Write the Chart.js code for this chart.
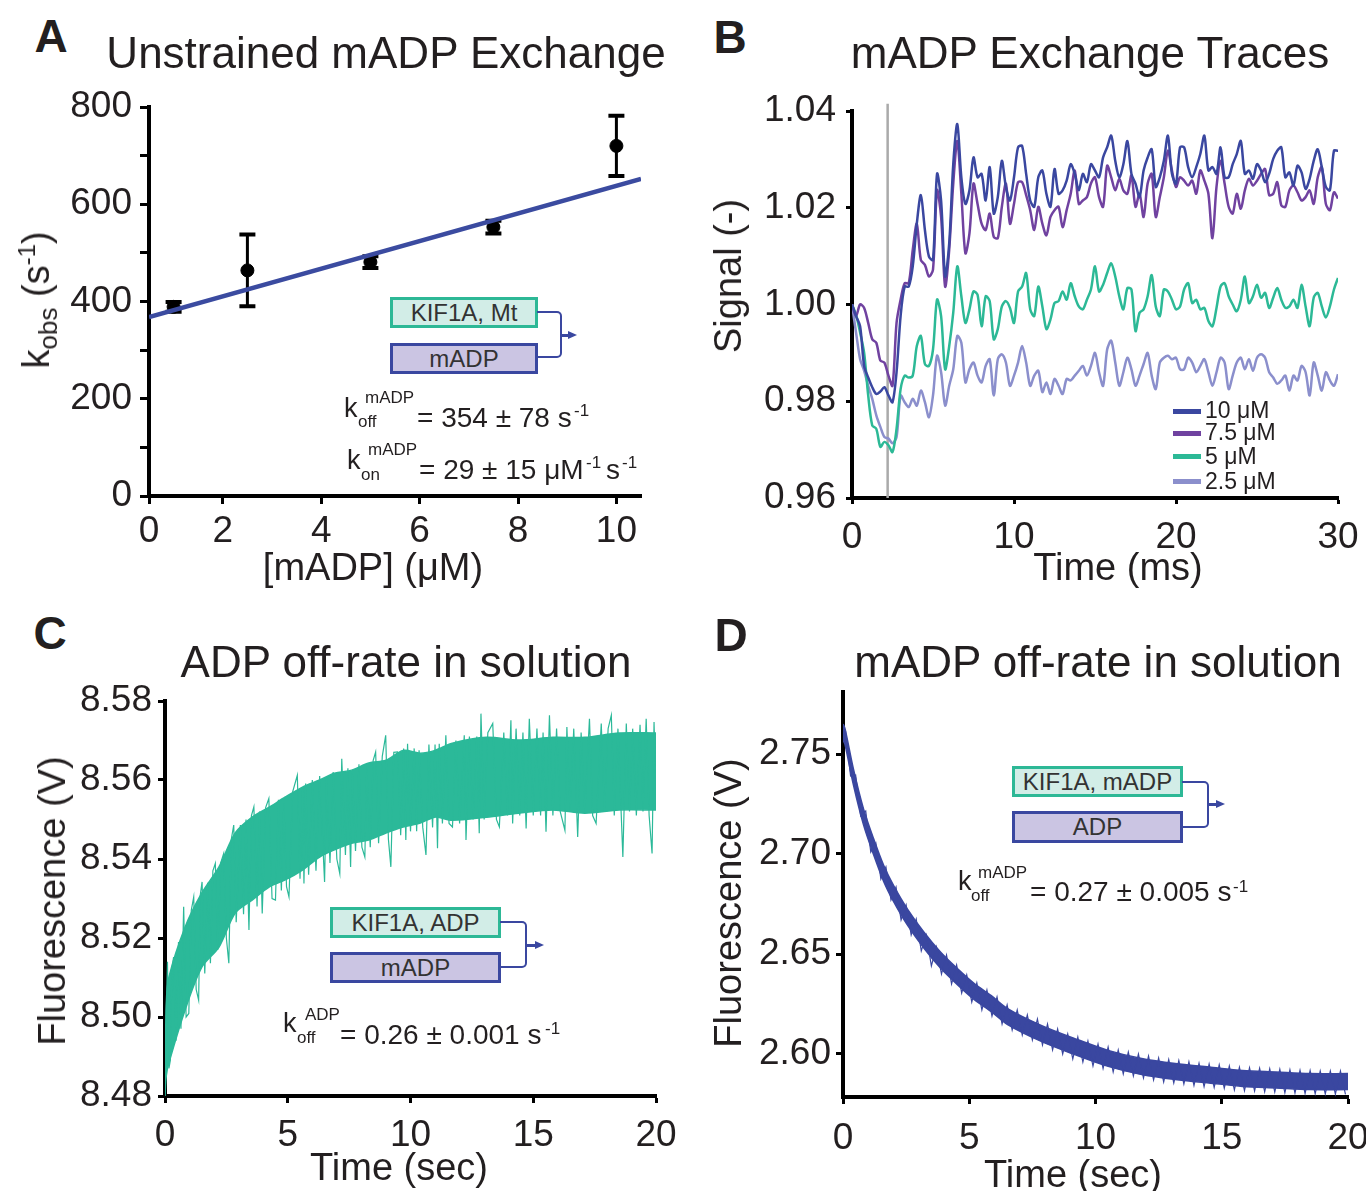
<!DOCTYPE html>
<html lang="en">
<head>
    <meta charset="UTF-8">
    <title>KIF1A mADP exchange</title>
    <script src="https://cdn.jsdelivr.net/npm/chart.js"></script>
    <style>
        body { margin: 0; width: 1366px; height: 1191px; overflow: hidden; background: #fff; position: relative; }
        canvas { position: absolute; }
        .t { position: absolute; font-family: 'Liberation Sans', Arial, sans-serif; color: #231f20; white-space: nowrap; line-height: 1; transform: translate(-50%, -50%); }
        .l { position: absolute; font-family: 'Liberation Sans', Arial, sans-serif; color: #231f20; white-space: nowrap; line-height: 1; transform: translateY(-50%); }
        .rot { transform: translate(-50%, -50%) rotate(-90deg); }
        .panel { font-weight: bold; font-size: 46px; }
        .title { font-size: 44px; }
        .axt { font-size: 38px; }
        .box { position: absolute; box-sizing: border-box; border: 3px solid; font-family: 'Liberation Sans', Arial, sans-serif; font-size: 24px; color: #333; display: flex; align-items: center; justify-content: center; }
        .kif { border-color: #2db896; background: #d2ede7; }
        .nuc { border-color: #3a47a0; background: #cbc5e3; }
        .brk { position: absolute; box-sizing: border-box; border: 2.5px solid #3a47a0; border-left: none; border-radius: 0 5px 5px 0; }
        .arr { position: absolute; height: 2.5px; background: #3a47a0; }
        .head { position: absolute; width: 0; height: 0; border-top: 4px solid transparent; border-bottom: 4px solid transparent; border-left: 9px solid #3a47a0; }
        .sub { font-size: 17px; }
        .big { font-size: 28px; }
        .kk { font-size: 27px; }
        .leg { position: absolute; height: 5px; width: 28px; }
        .legt { font-size: 23px; }
    </style>
</head>
<body>
    <canvas id="chartA" width="680" height="525" style="left:0px;top:75px"></canvas>
    <canvas id="chartB" width="720" height="525" style="left:690px;top:75px"></canvas>
    <canvas id="chartC" width="730" height="526" style="left:0px;top:665px"></canvas>
    <canvas id="chartD" width="720" height="536" style="left:690px;top:655px"></canvas>

    <!-- panel letters and titles -->
    <div class="t panel" style="left:51px;top:36px">A</div>
    <div class="t panel" style="left:730px;top:37px">B</div>
    <div class="t panel" style="left:50px;top:633px">C</div>
    <div class="t panel" style="left:731px;top:635px">D</div>
    <div class="t title" style="left:386px;top:53px">Unstrained mADP Exchange</div>
    <div class="t title" style="left:1090px;top:53px">mADP Exchange Traces</div>
    <div class="t title" style="left:406px;top:662px">ADP off-rate in solution</div>
    <div class="t title" style="left:1098px;top:662px">mADP off-rate in solution</div>

    <!-- axis titles -->
    <div class="t axt" style="left:373px;top:567px">[mADP] (μM)</div>
    <div class="t axt rot" style="left:36px;top:300px">k<span style="font-size:26px;position:relative;top:8px">obs</span> (s<span style="font-size:24px;position:relative;top:-14px">-1</span>)</div>
    <div class="t axt" style="left:1118px;top:567px">Time (ms)</div>
    <div class="t axt rot" style="left:728px;top:276px">Signal (-)</div>
    <div class="t axt" style="left:399px;top:1167px">Time (sec)</div>
    <div class="t axt rot" style="left:52px;top:901px">Fluorescence (V)</div>
    <div class="t axt" style="left:1073px;top:1174px">Time (sec)</div>
    <div class="t axt rot" style="left:728px;top:903px">Fluorescence (V)</div>

    <!-- panel A inset -->
    <div class="box kif" style="left:390px;top:297px;width:148px;height:31px">KIF1A, Mt</div>
    <div class="box nuc" style="left:390px;top:343px;width:148px;height:31px">mADP</div>
    <div class="brk" style="left:537px;top:311px;width:25px;height:47px"></div>
    <div class="arr" style="left:561px;top:334px;width:8px"></div>
    <div class="head" style="left:568px;top:331px"></div>
    <div class="l kk" style="left:344px;top:408px">k</div>
    <div class="l sub" style="left:365px;top:397px">mADP</div>
    <div class="l sub" style="left:358px;top:421px">off</div>
    <div class="l big" style="left:417px;top:418px">= 354 ± 78 s</div>
    <div class="l sub" style="left:574px;top:410px">-1</div>
    <div class="l kk" style="left:347px;top:460px">k</div>
    <div class="l sub" style="left:368px;top:449px">mADP</div>
    <div class="l sub" style="left:361px;top:474px">on</div>
    <div class="l big" style="left:419px;top:470px">= 29 ± 15 μM</div>
    <div class="l sub" style="left:586px;top:462px">-1</div>
    <div class="l big" style="left:606px;top:470px">s</div>
    <div class="l sub" style="left:622px;top:462px">-1</div>

    <!-- panel B legend -->
    <div class="leg" style="left:1173px;top:409px;background:#3a47a0"></div>
    <div class="leg" style="left:1173px;top:431px;background:#7042a0"></div>
    <div class="leg" style="left:1173px;top:454px;background:#2cb996"></div>
    <div class="leg" style="left:1173px;top:479px;background:#8b8fcc"></div>
    <div class="l legt" style="left:1205px;top:410px">10 μM</div>
    <div class="l legt" style="left:1205px;top:432px">7.5 μM</div>
    <div class="l legt" style="left:1205px;top:456px">5 μM</div>
    <div class="l legt" style="left:1205px;top:481px">2.5 μM</div>

    <!-- panel C inset -->
    <div class="box kif" style="left:330px;top:907px;width:171px;height:31px">KIF1A, ADP</div>
    <div class="box nuc" style="left:330px;top:952px;width:171px;height:31px">mADP</div>
    <div class="brk" style="left:500px;top:921px;width:27px;height:47px"></div>
    <div class="arr" style="left:526px;top:944px;width:9px"></div>
    <div class="head" style="left:535px;top:941px"></div>
    <div class="l kk" style="left:283px;top:1023px">k</div>
    <div class="l sub" style="left:305px;top:1014px">ADP</div>
    <div class="l sub" style="left:297px;top:1037px">off</div>
    <div class="l big" style="left:340px;top:1035px">= 0.26 ± 0.001 s</div>
    <div class="l sub" style="left:545px;top:1028px">-1</div>

    <!-- panel D inset -->
    <div class="box kif" style="left:1012px;top:766px;width:171px;height:31px">KIF1A, mADP</div>
    <div class="box nuc" style="left:1012px;top:811px;width:171px;height:32px">ADP</div>
    <div class="brk" style="left:1182px;top:781px;width:27px;height:47px"></div>
    <div class="arr" style="left:1208px;top:803px;width:9px"></div>
    <div class="head" style="left:1216px;top:800px"></div>
    <div class="l kk" style="left:958px;top:881px">k</div>
    <div class="l sub" style="left:978px;top:872px">mADP</div>
    <div class="l sub" style="left:971px;top:895px">off</div>
    <div class="l big" style="left:1030px;top:892px">= 0.27 ± 0.005 s</div>
    <div class="l sub" style="left:1233px;top:886px">-1</div>

    <script>
        // ---- Panel A: kobs vs [mADP] ----
        const aConc = [1, 2.5, 5, 7.5, 10];
        const aKobs = [389, 464, 481, 553, 720];
        const aErr = [10, 74, 12, 13, 62];
        const aFitX = [0.5, 10.5];
        const aFitY = [368, 652];
        const aXTicks = [0.5, 2, 4, 6, 8, 10];
        const aXLabels = ['0', '2', '4', '6', '8', '10'];
        const aYTicks = [0, 100, 200, 300, 400, 500, 600, 700, 800];
        const aYLabels = ['0', '', '200', '', '400', '', '600', '', '800'];

        // ---- Panel B: exchange traces (time in ms) ----
        const traceTimes = [0, 0.25, 0.5, 0.75, 1, 1.25, 1.5, 1.75, 2, 2.25, 2.5, 2.75, 3, 3.25, 3.5, 3.75, 4, 4.25, 4.5, 4.75,
            5, 5.25, 5.5, 5.75, 6, 6.25, 6.5, 6.75, 7, 7.25, 7.5, 7.75, 8, 8.25, 8.5, 8.75, 9, 9.25, 9.5, 9.75,
            10, 10.25, 10.5, 10.75, 11, 11.25, 11.5, 11.75, 12, 12.25, 12.5, 12.75, 13, 13.25, 13.5, 13.75, 14, 14.25, 14.5, 14.75,
            15, 15.25, 15.5, 15.75, 16, 16.25, 16.5, 16.75, 17, 17.25, 17.5, 17.75, 18, 18.25, 18.5, 18.75, 19, 19.25, 19.5, 19.75,
            20, 20.25, 20.5, 20.75, 21, 21.25, 21.5, 21.75, 22, 22.25, 22.5, 22.75, 23, 23.25, 23.5, 23.75, 24, 24.25, 24.5, 24.75,
            25, 25.25, 25.5, 25.75, 26, 26.25, 26.5, 26.75, 27, 27.25, 27.5, 27.75, 28, 28.25, 28.5, 28.75, 29, 29.25, 29.5, 29.75, 30];
        const trace10 = [1.000, 0.9976, 0.9955, 0.9873, 0.9849, 0.9829, 0.9815, 0.982, 0.9829, 0.9812, 0.9798, 0.986, 0.9976, 1.0037, 1.0037, 1.0079, 1.0167, 1.0226, 1.0154, 1.0099,
            1.0092, 1.027, 1.0215, 1.0058, 1.0126, 1.029, 1.0373, 1.0263, 1.0208, 1.0236, 1.0304, 1.0263, 1.027, 1.0215, 1.0284, 1.0188, 1.0222, 1.0297, 1.0243, 1.0215,
            1.0263, 1.0325, 1.0328, 1.027, 1.0215, 1.0202, 1.0263, 1.0277, 1.0229, 1.0202, 1.028, 1.0229, 1.0236, 1.0256, 1.029, 1.027, 1.0236, 1.027, 1.0253, 1.029,
            1.0277, 1.0263, 1.0304, 1.0325, 1.0349, 1.0297, 1.0263, 1.029, 1.0338, 1.027, 1.025, 1.0222, 1.0277, 1.0304, 1.0321, 1.0243, 1.0263, 1.0297, 1.0349, 1.027,
            1.025, 1.0325, 1.0325, 1.0284, 1.0263, 1.0284, 1.0311, 1.0349, 1.0277, 1.0284, 1.027, 1.0325, 1.0263, 1.0263, 1.029, 1.0311, 1.0338, 1.027, 1.0277, 1.026,
            1.029, 1.0277, 1.0253, 1.027, 1.0301, 1.0318, 1.0325, 1.0263, 1.0273, 1.0246, 1.0287, 1.0273, 1.0239, 1.026, 1.0297, 1.0321, 1.0284, 1.0243, 1.0236, 1.0318, 1.0318];
        const trace75 = [1.0, 0.9976, 1.0, 0.9993, 0.9962, 0.9928, 0.9921, 0.9884, 0.988, 0.9853, 0.9832, 0.9962, 1.001, 1.0044, 1.0044, 1.0113, 1.0167, 1.0092, 1.0082, 1.0058,
            1.0072, 1.0236, 1.0181, 1.0037, 1.0113, 1.025, 1.0338, 1.0229, 1.0106, 1.0147, 1.025, 1.0208, 1.0167, 1.0154, 1.0188, 1.014, 1.0137, 1.0202, 1.025, 1.0167,
            1.0208, 1.0253, 1.0253, 1.0226, 1.0195, 1.0154, 1.0202, 1.0167, 1.0143, 1.0181, 1.0195, 1.0202, 1.016, 1.0195, 1.0229, 1.0277, 1.0208, 1.0215, 1.0222, 1.025,
            1.0263, 1.0222, 1.0202, 1.0287, 1.0263, 1.0236, 1.026, 1.0236, 1.0229, 1.0267, 1.0202, 1.0229, 1.0181, 1.025, 1.027, 1.0181, 1.0222, 1.0263, 1.0318, 1.0277,
            1.0243, 1.0263, 1.0256, 1.0246, 1.0256, 1.0229, 1.0277, 1.0256, 1.0229, 1.0137, 1.0243, 1.0297, 1.025, 1.0202, 1.0188, 1.0229, 1.0198, 1.0236, 1.026, 1.0246,
            1.0256, 1.027, 1.028, 1.0226, 1.0229, 1.0253, 1.0205, 1.0202, 1.0236, 1.0246, 1.0232, 1.0215, 1.0222, 1.0236, 1.0208, 1.0263, 1.0284, 1.0208, 1.0195, 1.0232, 1.0219];
        const trace5 = [1.0, 0.9979, 0.9942, 0.99, 0.9812, 0.975, 0.9743, 0.9706, 0.9716, 0.9709, 0.9695, 0.9743, 0.9825, 0.9853, 0.9849, 0.9853, 0.9914, 0.9935, 0.9877, 0.9873,
            0.9907, 1.001, 0.9976, 0.9866, 0.9914, 0.9983, 1.0079, 1.0017, 0.9962, 0.999, 1.0027, 1.002, 0.9955, 1.0017, 1.0007, 0.9928, 0.9949, 0.9996, 1.0007, 0.9993,
            0.9962, 1.0027, 1.0037, 1.0065, 0.999, 0.9976, 1.0037, 0.9996, 0.9949, 0.9969, 1.0003, 1.0007, 1.0027, 1.001, 1.0044, 1.0017, 0.9996, 0.999, 1.001, 1.0031,
            1.0079, 1.0027, 1.0041, 1.0065, 1.0085, 1.0058, 1.0017, 0.999, 1.0034, 1.0031, 0.9945, 0.9983, 0.999, 1.0017, 1.0061, 0.9996, 0.9976, 1.0031, 1.0027, 1.001,
            0.999, 0.9996, 1.0031, 1.0044, 1.0003, 1.001, 0.999, 0.9993, 0.9966, 0.9955, 0.9993, 1.0037, 1.0044, 1.0017, 1.0, 0.9986, 1.001, 1.0058, 1.0003, 1.0017,
            1.0041, 1.0014, 1.0024, 0.9993, 1.0014, 1.0034, 1.001, 0.9993, 0.9996, 1.001, 0.9993, 1.0041, 0.9996, 0.9955, 1.0014, 1.0024, 0.9996, 0.9973, 0.9996, 1.0031, 1.0055];
        const trace25 = [1.0, 0.9942, 0.9887, 0.9863, 0.9832, 0.9805, 0.9771, 0.9747, 0.9726, 0.9723, 0.9713, 0.9726, 0.9812, 0.9798, 0.9788, 0.9805, 0.9791, 0.9822, 0.9798, 0.9767,
            0.9812, 0.9894, 0.986, 0.9791, 0.9832, 0.9866, 0.9935, 0.9921, 0.9839, 0.9866, 0.988, 0.9853, 0.9839, 0.9873, 0.9887, 0.9812, 0.9887, 0.9897, 0.988, 0.9832,
            0.9853, 0.988, 0.9914, 0.988, 0.9832, 0.9853, 0.9863, 0.9819, 0.9839, 0.9815, 0.9846, 0.9832, 0.9815, 0.9846, 0.9843, 0.9853, 0.9863, 0.9873, 0.9853, 0.9873,
            0.99, 0.986, 0.9832, 0.9907, 0.9925, 0.988, 0.9832, 0.986, 0.989, 0.9866, 0.9832, 0.9853, 0.9877, 0.99, 0.9853, 0.9825, 0.988, 0.989, 0.9894, 0.9887,
            0.989, 0.9866, 0.9866, 0.989, 0.988, 0.986, 0.9873, 0.9887, 0.986, 0.9832, 0.986, 0.989, 0.988, 0.9825, 0.9853, 0.988, 0.989, 0.9866, 0.9887, 0.9863,
            0.989, 0.9897, 0.989, 0.986, 0.9849, 0.9836, 0.9843, 0.9853, 0.9822, 0.9853, 0.9843, 0.9873, 0.986, 0.9812, 0.988, 0.9853, 0.9822, 0.986, 0.9843, 0.9832, 0.9856];
        const bMarkerTime = 2.2;
        const bXTicks = [0, 10, 20, 30];
        const bXLabels = ['0', '10', '20', '30'];
        const bYTicks = [0.96, 0.98, 1.00, 1.02, 1.04];
        const bYLabels = ['0.96', '0.98', '1.00', '1.02', '1.04'];

        // ---- Panel C: ADP off-rate, dense band edges + noise spikes [time s, volts] ----
        const cTimes = [0, 0.05, 0.16, 0.82, 1.5, 2.2, 2.86, 3.55, 4.24, 4.9, 5.6, 6.3, 6.9, 7.6, 8.3, 9.0, 9.7, 10.4, 11.0, 11.7, 13.1, 14.4, 15.8, 17.1, 18.5, 20];
        const cUpper = [8.481, 8.503, 8.5101, 8.5228, 8.5314, 8.538, 8.5466, 8.5506, 8.5531, 8.5557, 8.5582, 8.56, 8.5617, 8.5625, 8.5643, 8.565, 8.5675, 8.5668, 8.5675, 8.5693, 8.5708, 8.5701, 8.5708, 8.5708, 8.5719, 8.5719];
        const cLower = [8.480, 8.485, 8.4884, 8.5018, 8.5126, 8.5177, 8.5263, 8.5296, 8.5329, 8.5347, 8.5372, 8.5405, 8.5423, 8.544, 8.5448, 8.5466, 8.5481, 8.5491, 8.5506, 8.5498, 8.5506, 8.5516, 8.5524, 8.5516, 8.5524, 8.5524];
        const cSpikes = [
            [0.05, 8.500], [0.10, 8.514], [0.16, 8.487], [0.22, 8.4891], [0.28, 8.512], [0.35, 8.5152], [0.45, 8.494], [0.55, 8.519], [0.65, 8.497], [0.76, 8.5279],
            [0.86, 8.500], [0.97, 8.5009], [1.07, 8.527], [1.17, 8.5304], [1.27, 8.507], [1.37, 8.5043], [1.44, 8.531], [1.51, 8.5342], [1.62, 8.511], [1.74, 8.534],
            [1.85, 8.5136], [1.95, 8.537], [2.05, 8.5389], [2.15, 8.517], [2.27, 8.539], [2.39, 8.5414], [2.50, 8.520], [2.60, 8.5136], [2.70, 8.545], [2.80, 8.5486],
            [2.90, 8.524], [3.07, 8.5486], [3.20, 8.526], [3.30, 8.550], [3.42, 8.5220], [3.52, 8.551], [3.62, 8.5532], [3.75, 8.528], [3.85, 8.552], [3.96, 8.5262],
            [4.10, 8.553], [4.23, 8.5553], [4.36, 8.530], [4.50, 8.5296], [4.62, 8.555], [4.74, 8.532], [4.84, 8.5540], [4.95, 8.533], [5.05, 8.5304], [5.20, 8.557],
            [5.39, 8.5612], [5.50, 8.535], [5.60, 8.558], [5.66, 8.5338], [5.73, 8.5591], [5.85, 8.536], [6.00, 8.560], [6.15, 8.537], [6.30, 8.561], [6.50, 8.5342],
            [6.58, 8.5604], [6.72, 8.539], [6.85, 8.562], [7.00, 8.540], [7.12, 8.5363], [7.20, 8.5654], [7.35, 8.541], [7.45, 8.563], [7.56, 8.5380], [7.63, 8.5616],
            [7.76, 8.542], [7.90, 8.564], [8.02, 8.543], [8.14, 8.5405], [8.22, 8.5633], [8.36, 8.543], [8.48, 8.565], [8.58, 8.5671], [8.70, 8.544], [8.85, 8.566],
            [8.99, 8.5713], [9.10, 8.545], [9.20, 8.5380], [9.32, 8.567], [9.47, 8.5671], [9.60, 8.546], [9.72, 8.568], [9.81, 8.5448], [9.88, 8.5692], [10.00, 8.547],
            [10.15, 8.568], [10.25, 8.547], [10.35, 8.5675], [10.50, 8.548], [10.63, 8.5410], [10.75, 8.569], [10.90, 8.548], [11.00, 8.569], [11.10, 8.5427], [11.17, 8.5692],
            [11.30, 8.549], [11.44, 8.5713], [11.57, 8.549], [11.71, 8.5481], [11.85, 8.570], [12.00, 8.549], [12.19, 8.5713], [12.26, 8.5448], [12.40, 8.571], [12.55, 8.550],
            [12.70, 8.571], [12.80, 8.5465], [12.87, 8.5768], [13.00, 8.550], [13.15, 8.572], [13.35, 8.5743], [13.50, 8.550], [13.62, 8.5481], [13.80, 8.572], [13.95, 8.551],
            [14.09, 8.5751], [14.16, 8.5490], [14.30, 8.573], [14.45, 8.551], [14.58, 8.572], [14.71, 8.5477], [14.84, 8.5755], [15.00, 8.551], [15.15, 8.573], [15.30, 8.551],
            [15.40, 8.572], [15.52, 8.5469], [15.66, 8.5764], [15.80, 8.551], [15.95, 8.573], [16.10, 8.552], [16.29, 8.5473], [16.37, 8.5734], [16.50, 8.552], [16.65, 8.573],
            [16.81, 8.5456], [16.95, 8.572], [17.10, 8.552], [17.29, 8.5755], [17.42, 8.551], [17.56, 8.5490], [17.77, 8.5743], [17.90, 8.552], [18.05, 8.573], [18.18, 8.5764],
            [18.30, 8.551], [18.45, 8.573], [18.65, 8.5405], [18.79, 8.5743], [18.92, 8.552], [19.05, 8.573], [19.20, 8.551], [19.35, 8.574], [19.47, 8.552], [19.60, 8.5755],
            [19.72, 8.551], [19.84, 8.5414], [19.92, 8.5747], [20.00, 8.556]
        ];
        const cXTicks = [0, 5, 10, 15, 20];
        const cXLabels = ['0', '5', '10', '15', '20'];
        const cYTicks = [8.48, 8.50, 8.52, 8.54, 8.56, 8.58];
        const cYLabels = ['8.48', '8.50', '8.52', '8.54', '8.56', '8.58'];

        // ---- Panel D: mADP off-rate [time s, volts] ----
        const dTimes = [0, 0.08, 0.41, 0.81, 1.21, 1.61, 2.0, 2.54, 3.2, 3.86, 4.53, 5.2, 5.86, 6.52, 7.85, 9.18, 10.5, 11.83, 13.16, 14.49, 15.82, 17.15, 18.48, 20];
        const dUpper = [2.765, 2.7627, 2.7427, 2.7227, 2.7077, 2.6943, 2.6843, 2.6727, 2.661, 2.651, 2.6427, 2.6352, 2.6293, 2.6227, 2.6143, 2.6077, 2.6018, 2.5977, 2.5952, 2.5935, 2.5918, 2.591, 2.5902, 2.5902];
        const dLower = [2.757, 2.7547, 2.7347, 2.7147, 2.6997, 2.6863, 2.6763, 2.6647, 2.653, 2.643, 2.6347, 2.6272, 2.6213, 2.6147, 2.6063, 2.5997, 2.5938, 2.5897, 2.5872, 2.5855, 2.5838, 2.583, 2.5822, 2.5822];
        const dSpikes = [
            [0.1, 2.7615], [0.3, 2.739], [0.5, 2.7395], [0.7, 2.719], [0.9, 2.7215], [1.1, 2.701], [1.3, 2.7055], [1.5, 2.6875], [1.7, 2.6935], [1.9, 2.677],
            [2.1, 2.6835], [2.3, 2.667], [2.5, 2.6745], [2.7, 2.6595], [2.9, 2.6675], [3.1, 2.6515], [3.3, 2.6595], [3.5, 2.644], [3.7, 2.6535], [3.9, 2.64],
            [4.1, 2.6495], [4.3, 2.635], [4.5, 2.6445], [4.7, 2.6305], [4.9, 2.6395], [5.1, 2.626], [5.3, 2.6355], [5.5, 2.622], [5.7, 2.632], [5.9, 2.619],
            [6.1, 2.6285], [6.3, 2.615], [6.5, 2.6245], [6.7, 2.612], [6.9, 2.622], [7.1, 2.6095], [7.3, 2.6195], [7.5, 2.607], [7.7, 2.6175], [7.9, 2.6045],
            [8.1, 2.615], [8.3, 2.602], [8.5, 2.6125], [8.7, 2.600], [8.9, 2.610], [9.1, 2.5975], [9.3, 2.6085], [9.5, 2.596], [9.7, 2.6065], [9.9, 2.594],
            [10.1, 2.605], [10.3, 2.5928], [10.5, 2.6035], [10.7, 2.591], [10.9, 2.602], [11.1, 2.590], [11.3, 2.601], [11.5, 2.589], [11.7, 2.600], [11.9, 2.588],
            [12.1, 2.599], [12.3, 2.587], [12.5, 2.598], [12.7, 2.586], [12.9, 2.5972], [13.1, 2.5855], [13.3, 2.5967], [13.5, 2.585], [13.7, 2.5961], [13.9, 2.5843],
            [14.1, 2.5954], [14.3, 2.5837], [14.5, 2.595], [14.7, 2.5833], [14.9, 2.5946], [15.1, 2.5829], [15.3, 2.594], [15.5, 2.582], [15.7, 2.5934], [15.9, 2.5817],
            [16.1, 2.5931], [16.3, 2.5815], [16.5, 2.5928], [16.7, 2.5812], [16.9, 2.5926], [17.1, 2.581], [17.3, 2.5923], [17.5, 2.5807], [17.7, 2.5921], [17.9, 2.5805],
            [18.1, 2.5919], [18.3, 2.5803], [18.5, 2.5917], [18.7, 2.5801], [18.9, 2.5915], [19.1, 2.580], [19.3, 2.5915], [19.5, 2.5799], [19.7, 2.5915], [19.9, 2.5798]
        ];
        const dXTicks = [0, 5, 10, 15, 20];
        const dXLabels = ['0', '5', '10', '15', '20'];
        const dYTicks = [2.60, 2.65, 2.70, 2.75];
        const dYLabels = ['2.60', '2.65', '2.70', '2.75'];

        Chart.defaults.font.family = "'Liberation Sans', Arial, sans-serif";
        Chart.defaults.font.size = 37;
        Chart.defaults.color = '#231f20';
        Chart.defaults.animation = false;

        const xy = (xs, ys) => xs.map((x, i) => ({ x: x, y: ys[i] }));
        const pairs = list => list.map(p => ({ x: p[0], y: p[1] }));

        function axis(min, max, ticks, labels, tickLen, pad) {
            return {
                type: 'linear', min: min, max: max,
                afterBuildTicks: s => { s.ticks = ticks.map(v => ({ value: v })); },
                ticks: { autoSkip: false, maxRotation: 0, padding: pad, callback: (v, i) => labels[i] },
                grid: { drawOnChartArea: false, drawTicks: true, tickLength: tickLen, tickWidth: 3, tickColor: '#000' },
                border: { display: true, color: '#000', width: 4 }
            };
        }

        // canvas rect [left, top, width, height] and wanted plot area [left, top, right, bottom], page pixels
        function makeChart(id, canvasBox, area, datasets, xAxis, yAxis, plugins) {
            xAxis.afterFit = s => { s.height = canvasBox[1] + canvasBox[3] - area[3]; };
            yAxis.afterFit = s => { s.width = area[0] - canvasBox[0]; };
            return new Chart(document.getElementById(id), {
                type: 'line',
                data: { datasets: datasets },
                options: {
                    responsive: false,
                    devicePixelRatio: 1,
                    layout: { padding: { top: area[1] - canvasBox[1], right: canvasBox[0] + canvasBox[2] - area[2], left: 0, bottom: 0 } },
                    plugins: { legend: { display: false }, tooltip: { enabled: false } },
                    elements: { point: { radius: 0 } },
                    scales: { x: xAxis, y: yAxis }
                },
                plugins: plugins || []
            });
        }

        // error bars for panel A, drawn through the chart scales
        const errorBars = {
            id: 'errorBars',
            beforeDatasetsDraw(chart) {
                const { ctx, scales: { x, y } } = chart;
                ctx.save();
                ctx.strokeStyle = '#000';
                aConc.forEach((c, i) => {
                    const px = x.getPixelForValue(c);
                    const top = y.getPixelForValue(aKobs[i] + aErr[i]);
                    const bot = y.getPixelForValue(aKobs[i] - aErr[i]);
                    ctx.lineWidth = 3;
                    ctx.beginPath();
                    ctx.moveTo(px, top); ctx.lineTo(px, bot);
                    ctx.stroke();
                    ctx.lineWidth = 4;
                    ctx.beginPath();
                    ctx.moveTo(px - 8, top); ctx.lineTo(px + 8, top);
                    ctx.moveTo(px - 8, bot); ctx.lineTo(px + 8, bot);
                    ctx.stroke();
                });
                ctx.restore();
            }
        };

        makeChart('chartA', [0, 75, 680, 525], [149, 107, 641, 496], [
            { data: xy(aFitX, aFitY), borderColor: '#3b4ba0', borderWidth: 4.5, pointRadius: 0 },
            { data: xy(aConc, aKobs), showLine: false, pointRadius: 6.5, pointBackgroundColor: '#000', pointBorderColor: '#000' }
        ], axis(0.5, 10.5, aXTicks, aXLabels, 8, 6), axis(0, 800, aYTicks, aYLabels, 9, 8), [errorBars]);

        makeChart('chartB', [690, 75, 720, 525], [852, 111, 1338, 498], [
            { data: xy(traceTimes, trace10), borderColor: '#3a47a0', borderWidth: 2.5, tension: 0.3 },
            { data: xy(traceTimes, trace75), borderColor: '#7042a0', borderWidth: 2.5, tension: 0.3 },
            { data: xy(traceTimes, trace5), borderColor: '#2cb996', borderWidth: 2.5, tension: 0.3 },
            { data: xy(traceTimes, trace25), borderColor: '#8b8fcc', borderWidth: 2.5, tension: 0.3 },
            { data: [{ x: bMarkerTime, y: 0.96 }, { x: bMarkerTime, y: 1.0415 }], borderColor: '#aaaaaa', borderWidth: 2.5, clip: false }
        ], axis(0, 30, bXTicks, bXLabels, 6, 12), axis(0.96, 1.04, bYTicks, bYLabels, 6, 10));

        makeChart('chartC', [0, 665, 730, 526], [165, 701, 656, 1096], [
            { data: pairs(cSpikes), borderColor: '#2bb999', borderWidth: 1.2 },
            { data: xy(cTimes, cUpper), borderColor: '#2bb999', borderWidth: 1.5, tension: 0.3 },
            { data: xy(cTimes, cLower), borderColor: '#2bb999', borderWidth: 1.5, tension: 0.3, fill: '-1', backgroundColor: '#2bb999' }
        ], axis(0, 20, cXTicks, cXLabels, 7, 11), axis(8.48, 8.58, cYTicks, cYLabels, 7, 6));

        makeChart('chartD', [690, 655, 720, 536], [843, 692, 1348, 1097], [
            { data: pairs(dSpikes), borderColor: '#3a47a0', borderWidth: 1.2 },
            { data: xy(dTimes, dUpper), borderColor: '#3a47a0', borderWidth: 1.5, tension: 0.3 },
            { data: xy(dTimes, dLower), borderColor: '#3a47a0', borderWidth: 1.5, tension: 0.3, fill: '-1', backgroundColor: '#3a47a0' }
        ], axis(0, 20, dXTicks, dXLabels, 7, 13), axis(2.5785, 2.781, dYTicks, dYLabels, 7, 5));
    </script>
</body>
</html>
